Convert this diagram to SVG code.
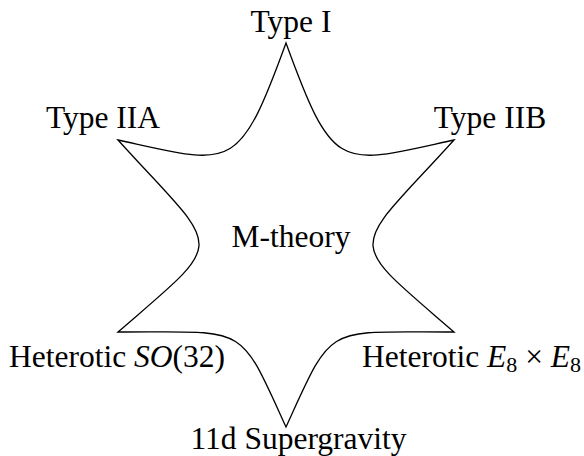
<svg xmlns="http://www.w3.org/2000/svg" width="584" height="456" viewBox="0 0 584 456">
<style>
.lbl{font-family:"Liberation Serif","Times New Roman",serif;font-size:31.5px;fill:#000}
.it{font-style:italic}
.sub{font-size:22px}
.edge{fill:none;stroke:#000;stroke-width:1.3}
</style>
<rect width="584" height="456" fill="#fff"/>
<g id="connectors">
<path class="edge" d="M286,43 C334,175 340,165 454,140 C350,255 342,235 454,332 C323,332 334,322 286,427 C238,322 249,332 118,332 C230,235 222,255 118,140 C232,165 238,175 286,43 Z"/>
</g>
<g class="lbl">
<g id="type1"><text x="291" y="32" text-anchor="middle">Type I</text></g>
<g id="type2a"><text x="103" y="128" text-anchor="middle">Type IIA</text></g>
<g id="type2b"><text x="490" y="128" text-anchor="middle">Type IIB</text></g>
<g id="mtheory"><text x="291" y="247" text-anchor="middle">M-theory</text></g>
<g id="hetso"><text x="9" y="367">Heterotic <tspan class="it">SO</tspan>(32)</text></g>
<g id="hete8"><text x="362" y="367">Heterotic <tspan class="it">E</tspan><tspan class="sub" dy="5">8</tspan><tspan dy="-5"> × </tspan><tspan class="it">E</tspan><tspan class="sub" dy="5">8</tspan></text></g>
<g id="sugra"><text x="298.5" y="449" text-anchor="middle">11d Supergravity</text></g>
</g>
</svg>
